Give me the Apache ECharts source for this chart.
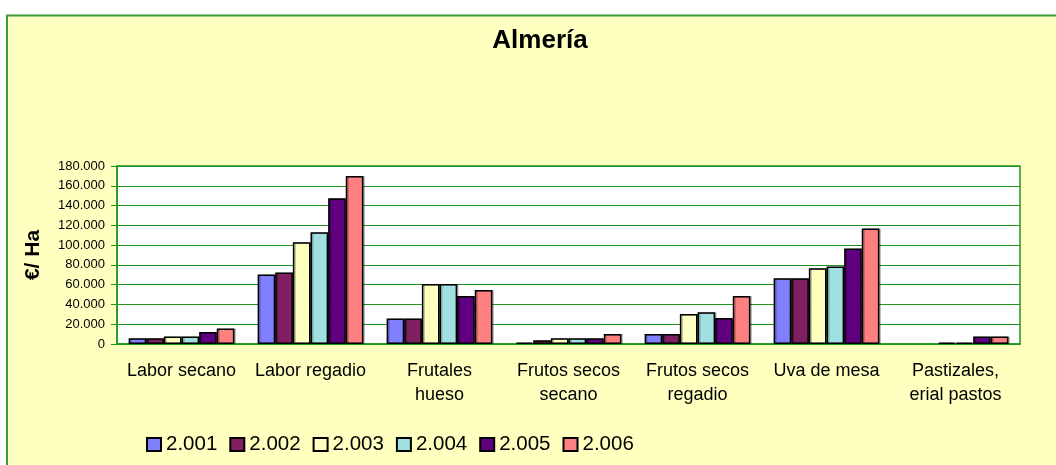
<!DOCTYPE html>
<html>
<head>
<meta charset="utf-8">
<script src="https://cdn.jsdelivr.net/npm/echarts@6/dist/echarts.min.js"></script>
<style>
  html, body { margin: 0; padding: 0; background: #fff; }
  #chart { width: 1056px; height: 465px; }
</style>
</head>
<body>
<div id="chart"></div>
<script>
  const categories = ['Labor secano', 'Labor regadio', 'Frutales\nhueso', 'Frutos secos\nsecano', 'Frutos secos\nregadio', 'Uva de mesa', 'Pastizales,\nerial pastos'];
  const years = ['2.001', '2.002', '2.003', '2.004', '2.005', '2.006'];
  const v2001 = [5800, 70300, 25900, 1500, 10100, 66600, 0];
  const v2002 = [5800, 72300, 25900, 3700, 10100, 66600, 0];
  const v2003 = [7700, 103000, 60600, 5700, 30300, 76700, 1500];
  const v2004 = [7700, 113000, 60600, 5700, 32000, 78400, 1500];
  const v2005 = [12100, 147400, 48500, 5700, 26200, 96600, 7700];
  const v2006 = [15800, 170000, 54500, 10100, 48500, 116800, 7700];
  const yTickLabels = ['0', '20.000', '40.000', '60.000', '80.000', '100.000', '120.000', '140.000', '160.000', '180.000'];

  const values = [v2001, v2002, v2003, v2004, v2005, v2006];
  const colors = ['#8080FF', '#802060', '#FFFFC0', '#A0E0E0', '#600080', '#FF8080'];
  const font = 'Arial, "Liberation Sans", sans-serif';
  const green = '#1f961f';

  const chart = echarts.init(document.getElementById('chart'), null, { renderer: 'canvas' });

  // one bar series per year, zero values left empty
  const series = years.map((y, i) => ({
    name: y,
    type: 'bar',
    data: values[i].map(v => (v === 0 ? null : v)),
    barGap: '0%',
    barCategoryGap: '18%',
    itemStyle: {
      color: colors[i],
      borderColor: '#000',
      borderWidth: 1.5,
      shadowColor: 'rgba(0,0,0,0.25)',
      shadowOffsetX: 1.5,
      shadowOffsetY: 0
    },
    emphasis: { disabled: true }
  }));

  chart.setOption({
    animation: false,
    backgroundColor: '#fff',
    graphic: [{
      type: 'rect',
      z: -10,
      silent: true,
      shape: { x: 7, y: 15.5, width: 1100, height: 500 },
      style: { fill: '#FFFFC0', stroke: '#3c9c3c', lineWidth: 2 }
    }],
    title: {
      text: 'Almería',
      left: 535,
      textAlign: 'center',
      top: 23,
      textStyle: { fontFamily: font, fontWeight: 'bold', fontSize: 26, color: '#000' }
    },
    grid: {
      left: 117,
      right: 36,
      top: 166,
      bottom: 121,
      show: true,
      backgroundColor: '#fff',
      borderColor: green,
      borderWidth: 1.5
    },
    legend: {
      left: 141,
      top: 429,
      itemWidth: 14,
      itemHeight: 13,
      itemGap: 12,
      icon: 'rect',
      textStyle: { fontFamily: font, fontSize: 20.5, color: '#000' },
      data: years
    },
    xAxis: {
      type: 'category',
      data: categories,
      axisLine: { lineStyle: { color: green, width: 1.5 } },
      axisTick: { length: 5, lineStyle: { color: green } },
      axisLabel: {
        interval: 0,
        margin: 15,
        fontFamily: font,
        fontSize: 18,
        lineHeight: 24,
        color: '#000'
      }
    },
    yAxis: {
      type: 'value',
      min: 0,
      max: 180000,
      interval: 20000,
      name: '€/ Ha',
      nameLocation: 'middle',
      nameGap: 73,
      nameTextStyle: { fontFamily: font, fontWeight: 'bold', fontSize: 21, color: '#000' },
      axisLine: { show: true, lineStyle: { color: green, width: 1.5 } },
      axisTick: { show: true, length: 6, lineStyle: { color: green } },
      splitLine: { lineStyle: { color: green, width: 1.2 } },
      axisLabel: {
        margin: 12,
        fontFamily: font,
        fontSize: 13,
        color: '#000',
        formatter: v => yTickLabels[Math.round(v / 20000)]
      }
    },
    series: series
  });
</script>
</body>
</html>
